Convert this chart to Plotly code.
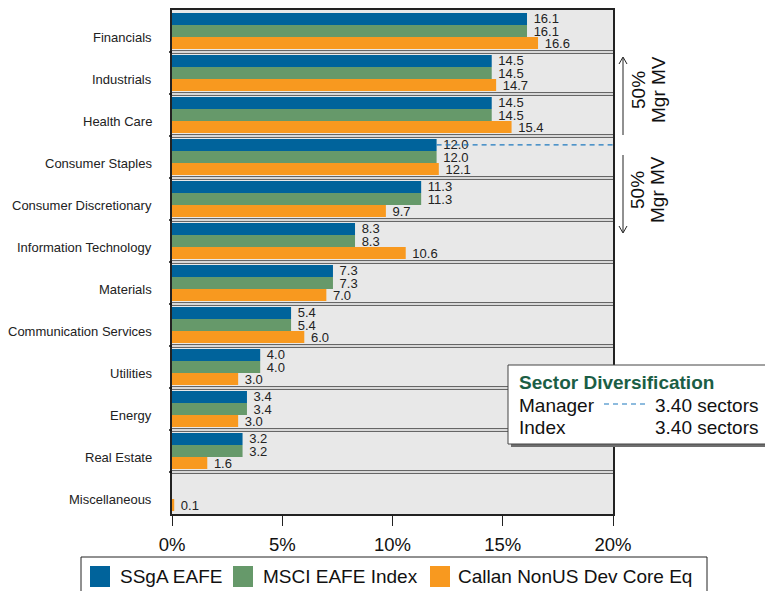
import plotly.graph_objects as go

categories = ["Financials", "Industrials", "Health Care", "Consumer Staples",
              "Consumer Discretionary", "Information Technology", "Materials",
              "Communication Services", "Utilities", "Energy", "Real Estate",
              "Miscellaneous"]
ssga = [16.1, 14.5, 14.5, 12.0, 11.3, 8.3, 7.3, 5.4, 4.0, 3.4, 3.2, None]
msci = [16.1, 14.5, 14.5, 12.0, 11.3, 8.3, 7.3, 5.4, 4.0, 3.4, 3.2, None]
callan = [16.6, 14.7, 15.4, 12.1, 9.7, 10.6, 7.0, 6.0, 3.0, 3.0, 1.6, 0.1]
series_names = ["SSgA EAFE", "MSCI EAFE Index", "Callan NonUS Dev Core Eq"]
colors = ["#00639B", "#66996A", "#F8991F"]
tick_vals = [0, 5, 10, 15, 20]
tick_text = ["0%", "5%", "10%", "15%", "20%"]
manager_div = "3.40 sectors"
index_div = "3.40 sectors"

FONT = "Liberation Sans, Arial, sans-serif"
OFF = 8  # page body margin
W, H = 773 - OFF, 591 - OFF
# plot area in page pixels
PL, PR, PT, PB = 172, 613, 10, 514
PW, PH = PR - PL, PB - PT
BARGAP = 0.14


def px(x):
    return (x - PL) / PW


def py(y):
    return (PB - y) / PH


fig = go.Figure()
for name, vals, col in zip(series_names, [ssga, msci, callan], colors):
    fig.add_trace(go.Bar(
        y=categories, x=vals, orientation="h", name=name, showlegend=False,
        marker=dict(color=col, line=dict(width=0)),
        text=[("\u00a0" + f"{v:.1f}") if v is not None else "" for v in vals],
        textposition="outside", cliponaxis=False, constraintext="none",
        textfont=dict(family=FONT, size=13, color="#222222"),
    ))

shapes = []
n = len(categories)
for i in range(n - 1):
    shapes.append(dict(type="line", xref="paper", yref="y", x0=0, x1=1,
                       y0=i + 0.5, y1=i + 0.5,
                       line=dict(color="#666666", width=4), layer="above"))
    shapes.append(dict(type="line", xref="paper", yref="y", x0=0, x1=1,
                       y0=i + 0.5, y1=i + 0.5,
                       line=dict(color="#FFFFFF", width=1.6), layer="above"))
    shapes.append(dict(type="line", xref="paper", yref="y", x0=-3 / PW, x1=0,
                       y0=i + 0.5, y1=i + 0.5,
                       line=dict(color="#111111", width=1.5), layer="above"))

# Manager 50% cumulative MV line
cum = 0
idx50 = 0
for i, v in enumerate(ssga):
    cum += v or 0
    if cum >= 50:
        idx50 = i
        break
bw = (1 - BARGAP) / 3
shapes.append(dict(type="line", xref="x", yref="y", x0=ssga[idx50], x1=20,
                   y0=idx50 - bw, y1=idx50 - bw,
                   line=dict(color="#1C78BE", width=1.2, dash="5px,4px"),
                   layer="above"))

# arrows on right
ax = px(623)
def vline(y0, y1):
    return dict(type="line", xref="paper", yref="paper", x0=ax, x1=ax,
                y0=py(y0), y1=py(y1), line=dict(color="#222222", width=1))
shapes.append(vline(58, 135))
shapes.append(vline(155, 232))
def head(ytip, d):
    return dict(type="path", xref="paper", yref="paper",
                path=f"M {px(619)} {py(ytip + d)} L {ax} {py(ytip)} L {px(627)} {py(ytip + d)}",
                line=dict(color="#222222", width=1))
shapes.append(head(57, 7))
shapes.append(head(233, -7))

# Sector diversification box
shapes.append(dict(type="rect", xref="paper", yref="paper",
                   x0=px(511), x1=px(775), y0=py(447), y1=py(368),
                   fillcolor="#6E6E6E", line=dict(width=0), layer="above"))
shapes.append(dict(type="rect", xref="paper", yref="paper",
                   x0=px(508), x1=px(771), y0=py(444), y1=py(365),
                   fillcolor="white", line=dict(color="#444444", width=1),
                   layer="above"))
shapes.append(dict(type="line", xref="paper", yref="paper",
                   x0=px(604), x1=px(647), y0=py(404), y1=py(404),
                   line=dict(color="#1C78BE", width=1.2, dash="5px,4px"),
                   layer="above"))

BIG = 19
txt = dict(family=FONT, size=BIG, color="#111111")


def ann(x, y, text, xanchor="left", font=txt, **kw):
    return dict(xref="paper", yref="paper", x=x, y=y, text=text, xanchor=xanchor,
                yanchor="middle", showarrow=False, font=font, **kw)


annotations = []
# category labels (shifted slightly below row centres as in the reference)
for c in categories:
    annotations.append(dict(xref="paper", yref="y", x=0, y=c, xanchor="right",
                            yanchor="middle", xshift=-18, yshift=-6, text=c,
                            showarrow=False,
                            font=dict(family=FONT, size=13, color="#222222")))
for yc in (90, 190):
    annotations.append(ann(px(638), py(yc), "50%", xanchor="center", textangle=-90))
    annotations.append(ann(px(658), py(yc), "Mgr MV", xanchor="center", textangle=-90))
annotations += [
    ann(px(517), py(382), "<b>Sector Diversification</b>",
        font=dict(family=FONT, size=BIG, color="#1B5E45")),
    ann(px(517), py(405), "Manager"),
    ann(px(761), py(405), manager_div, xanchor="right"),
    ann(px(517), py(428), "Index"),
    ann(px(761), py(428), index_div, xanchor="right"),
]

# custom legend
shapes.append(dict(type="rect", xref="paper", yref="paper",
                   x0=px(81), x1=px(707), y0=py(592), y1=py(557),
                   fillcolor="white", line=dict(color="#222222", width=1)))
for name, col, lx, tx in zip(series_names, colors, [90, 233, 430], [118, 261, 456]):
    shapes.append(dict(type="rect", xref="paper", yref="paper",
                       x0=px(lx), x1=px(lx + 20), y0=py(587), y1=py(566),
                       fillcolor=col, line=dict(width=0)))
    annotations.append(ann(px(tx), py(576), name))

fig.update_layout(
    width=W, height=H,
    margin=dict(l=PL - OFF, r=W - (PR - OFF), t=PT - OFF, b=H - (PB - OFF), pad=0,
                autoexpand=False),
    paper_bgcolor="white", plot_bgcolor="#E8E8E8",
    barmode="group", bargap=BARGAP, bargroupgap=0,
    font=dict(family=FONT, color="#111111"),
    shapes=shapes, annotations=annotations, showlegend=False,
    xaxis=dict(range=[0, 20], tickvals=tick_vals, ticktext=tick_text,
               showgrid=False, zeroline=False, showline=True, linecolor="#222222",
               linewidth=1.5, mirror=True, ticks="outside", ticklen=10,
               tickcolor="#222222", tickwidth=1, automargin=False, ticklabelstandoff=3,
               tickfont=dict(family=FONT, size=18.5, color="#111111"), fixedrange=True),
    yaxis=dict(autorange="reversed", showgrid=False, showline=True, linecolor="#222222",
               linewidth=1.5, mirror=True, ticks="", showticklabels=False,
               automargin=False),
)

fig.write_html("out.html")
